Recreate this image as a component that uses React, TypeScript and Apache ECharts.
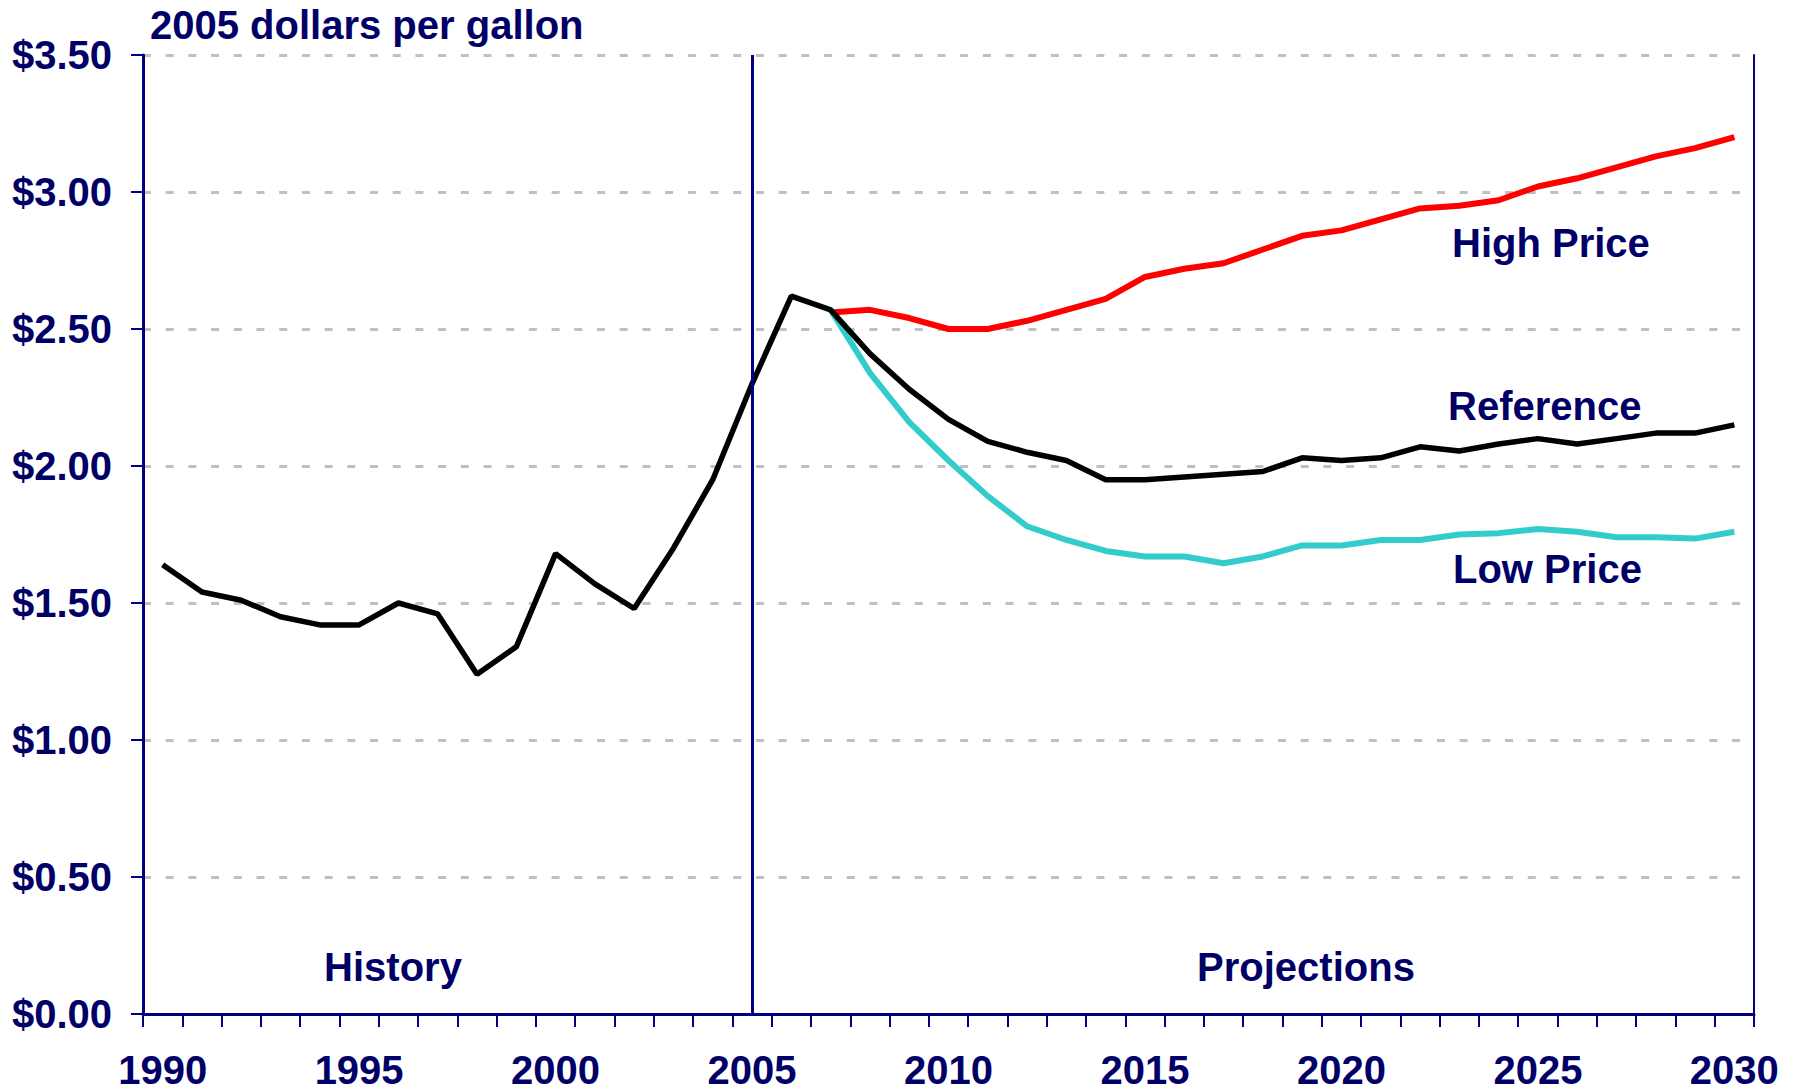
import React, { useEffect, useRef } from "react";
import * as echarts from "echarts";

const years = [
  "1990", "1991", "1992", "1993", "1994", "1995", "1996", "1997", "1998", "1999",
  "2000", "2001", "2002", "2003", "2004", "2005", "2006", "2007", "2008", "2009",
  "2010", "2011", "2012", "2013", "2014", "2015", "2016", "2017", "2018", "2019",
  "2020", "2021", "2022", "2023", "2024", "2025", "2026", "2027", "2028", "2029",
  "2030",
];

const referenceCase = [
  1.64, 1.54, 1.51, 1.45, 1.42, 1.42, 1.5, 1.46, 1.24, 1.34,
  1.68, 1.57, 1.48, 1.7, 1.95, 2.3, 2.62, 2.57, 2.41, 2.28,
  2.17, 2.09, 2.05, 2.02, 1.95, 1.95, 1.96, 1.97, 1.98, 2.03,
  2.02, 2.03, 2.07, 2.055, 2.08, 2.1, 2.08, 2.1, 2.12, 2.12,
  2.15,
];

const highPrice = [
  null, null, null, null, null, null, null, null, null, null,
  null, null, null, null, null, null, null, 2.56, 2.57, 2.54,
  2.5, 2.5, 2.53, 2.57, 2.61, 2.69, 2.72, 2.74, 2.79, 2.84,
  2.86, 2.9, 2.94, 2.95, 2.97, 3.02, 3.05, 3.09, 3.13, 3.16,
  3.2,
];

const lowPrice = [
  null, null, null, null, null, null, null, null, null, null,
  null, null, null, null, null, null, null, 2.57, 2.34, 2.16,
  2.02, 1.89, 1.78, 1.73, 1.69, 1.67, 1.67, 1.645, 1.67, 1.71,
  1.71, 1.73, 1.73, 1.75, 1.755, 1.77, 1.76, 1.74, 1.74, 1.735,
  1.76,
];

const dividerYear = "2005";
const yTicks = { min: 0, max: 3.5, interval: 0.5 };

const NAVY = "#000080";
const TEXT = "#000066";
const FONT = '"Liberation Sans", Arial, Helvetica, sans-serif';

function txt(text: string, x: number, y: number, align: string) {
  return {
    type: "text",
    x,
    y,
    z: 100,
    style: {
      text,
      fill: TEXT,
      font: `bold 40px ${FONT}`,
      textAlign: align,
      textVerticalAlign: "middle",
      align,
      verticalAlign: "middle",
    },
  };
}

export default function App() {
  const ref = useRef<HTMLDivElement>(null);

  useEffect(() => {
    if (!ref.current) return;
    const chart = echarts.init(ref.current, undefined, { renderer: "svg" });
    chart.setOption({
      animation: false,
      backgroundColor: "#ffffff",
      grid: {
        left: 143,
        right: 41,
        top: 55,
        bottom: 78,
        show: false,
      },
      xAxis: [
        {
          type: "category",
          data: years,
          boundaryGap: true,
          axisLine: { show: true, lineStyle: { color: NAVY, width: 3 } },
          axisTick: {
            show: true,
            interval: 0,
            length: 13,
            lineStyle: { color: NAVY, width: 2 },
          },
          axisLabel: {
            interval: 4,
            margin: 36,
            color: TEXT,
            fontFamily: FONT,
            fontWeight: "bold",
            fontSize: 40,
          },
          splitLine: { show: false },
        },
        {
          type: "category",
          data: years,
          position: "top",
          boundaryGap: true,
          axisLine: { show: true, lineStyle: { color: NAVY, width: 2 } },
          axisTick: { show: false },
          axisLabel: { show: false },
          splitLine: { show: false },
        },
      ],
      yAxis: [
        {
          type: "value",
          min: yTicks.min,
          max: yTicks.max,
          interval: yTicks.interval,
          axisLine: { show: true, lineStyle: { color: NAVY, width: 3 } },
          axisTick: {
            show: true,
            length: 12,
            lineStyle: { color: NAVY, width: 2 },
          },
          axisLabel: {
            margin: 31,
            color: TEXT,
            fontFamily: FONT,
            fontWeight: "bold",
            fontSize: 40,
            formatter: (v: number) => "$" + v.toFixed(2),
          },
          splitLine: {
            show: true,
            lineStyle: { color: "#c0c0c0", width: 3, type: [8, 14.7] },
          },
        },
        {
          type: "value",
          min: yTicks.min,
          max: yTicks.max,
          interval: yTicks.interval,
          position: "right",
          axisLine: { show: true, lineStyle: { color: NAVY, width: 2 } },
          axisTick: { show: false },
          axisLabel: { show: false },
          splitLine: { show: false },
        },
      ],
      series: [
        {
          name: "High Price",
          type: "line",
          data: highPrice,
          symbol: "none",
          lineStyle: { color: "#ff0000", width: 6 },
          itemStyle: { color: "#ff0000" },
          z: 3,
        },
        {
          name: "Low Price",
          type: "line",
          data: lowPrice,
          symbol: "none",
          lineStyle: { color: "#33cccc", width: 6 },
          itemStyle: { color: "#33cccc" },
          z: 3,
        },
        {
          name: "Reference",
          type: "line",
          data: referenceCase,
          symbol: "none",
          lineStyle: { color: "#000000", width: 5.5 },
          itemStyle: { color: "#000000" },
          z: 4,
          markLine: {
            silent: true,
            symbol: "none",
            label: { show: false },
            lineStyle: { color: NAVY, width: 3, type: "solid" },
            data: [{ xAxis: dividerYear }],
          },
        },
      ],
      graphic: [
        txt("2005 dollars per gallon", 150, 25, "left"),
        txt("High Price", 1452, 243, "left"),
        txt("Reference", 1448, 406, "left"),
        txt("Low Price", 1453, 569, "left"),
        txt("History", 393, 967, "center"),
        txt("Projections", 1306, 967, "center"),
      ],
    });
    return () => chart.dispose();
  }, []);

  return (
    <div
      ref={ref}
      style={{ position: "absolute", left: 0, top: 0, width: 1795, height: 1092 }}
    />
  );
}
